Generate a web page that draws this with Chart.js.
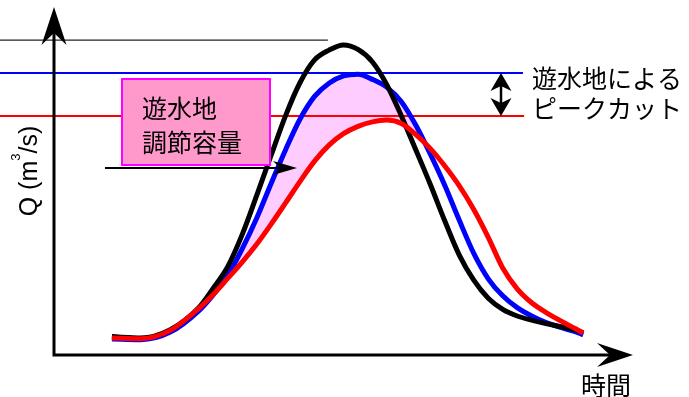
<!DOCTYPE html>
<html>
<head>
<meta charset="utf-8">
<script src="https://cdn.jsdelivr.net/npm/chart.js@4.4.1/dist/chart.umd.min.js"></script>
<style>
  body { margin: 0; background: #fff; }
  #chart { display: block; }
</style>
</head>
<body>
<canvas id="chart" width="689" height="397"></canvas>
<script>
// hydrograph (time 0..100, Q 0..100)
const timeSteps = [10, 15, 20, 25, 27.5, 30, 32.5, 35, 37.5, 40, 42.5, 45, 47.5, 50, 52.5, 55, 57.5, 60, 62.5, 65, 67.5, 70, 72.5, 75, 77.5, 80, 82.5, 85, 90, 91.4];
const inflowQ = [5.3, 4.9, 7.2, 13.6, 19.2, 25.4, 34.6, 45.8, 57.4, 68.8, 78.3, 84.8, 87.6, 89.1, 87.8, 84.2, 77.6, 68.7, 58.9, 49.0, 38.5, 28.7, 21.5, 16.3, 13.1, 11.2, 10.0, 9.0, 7.2, 6.4];
const beforePondQ = [4.6, 4.4, 6.5, 12.7, 17.3, 22.8, 30.5, 39.3, 49.3, 59.0, 67.8, 74.3, 78.1, 80.2, 80.7, 79.2, 76.9, 72.8, 66.0, 57.7, 48.7, 38.7, 29.2, 21.9, 17.0, 13.6, 11.2, 9.3, 6.7, 5.8];
const afterPondQ = [4.9, 4.7, 7.0, 13.4, 17.4, 22.0, 26.7, 31.8, 37.6, 43.7, 49.9, 55.7, 60.3, 63.6, 65.7, 67.0, 67.5, 66.5, 63.3, 59.3, 54.3, 48.6, 41.8, 33.8, 25.0, 19.0, 15.0, 12.2, 7.6, 6.3];

// horizontal level lines: black (thin), blue, red
const levelQ = [90.5, 81.0, 68.7];
const levelStart = -9.33;
const levelEnd = [47.3, 81.0, 81.2];

const yLabel = ['Q (m', '3', '/s)'];
const xLabel = '時間';
const boxText = ['遊水地', '調節容量'];
const cutText = ['遊水地による', 'ピークカット'];

function toPoints(ys) {
    return timeSteps.map((t, i) => ({ x: t, y: ys[i] }));
}

function levelLine(i) {
    return [{ x: levelStart, y: levelQ[i] }, { x: levelEnd[i], y: levelQ[i] }];
}

function arrowHead(ctx, tx, ty, dx, dy, len, half, notch) {
    const px = -dy, py = dx;
    ctx.beginPath();
    ctx.moveTo(tx, ty);
    ctx.lineTo(tx - dx * len + px * half, ty - dy * len + py * half);
    ctx.lineTo(tx - dx * notch, ty - dy * notch);
    ctx.lineTo(tx - dx * len - px * half, ty - dy * len - py * half);
    ctx.closePath();
    ctx.fill();
}

const drawing = {
    id: 'drawing',
    afterDatasetsDraw(chart) {
        const ctx = chart.ctx;
        const area = chart.chartArea;
        const ys = chart.scales.y;
        ctx.save();
        ctx.fillStyle = '#000';
        ctx.strokeStyle = '#000';

        // axes with arrows
        ctx.lineWidth = 3;
        ctx.beginPath();
        ctx.moveTo(area.left, area.top + 26);
        ctx.lineTo(area.left, area.bottom);
        ctx.lineTo(area.right - 23, area.bottom);
        ctx.stroke();
        arrowHead(ctx, area.left, area.top, 0, -1, 38, 12.5, 26);
        arrowHead(ctx, area.right, area.bottom, 1, 0, 36, 12, 23);

        // storage box
        ctx.fillStyle = '#ff99cc';
        ctx.fillRect(122, 79, 148, 86);
        ctx.strokeStyle = '#ff00ff';
        ctx.lineWidth = 2;
        ctx.strokeRect(122, 79, 148, 86);

        ctx.fillStyle = '#000';
        ctx.strokeStyle = '#000';
        ctx.font = '25px "Noto Sans CJK JP"';
        ctx.textBaseline = 'middle';
        ctx.textAlign = 'left';
        ctx.fillText(boxText[0], 142, 108);
        ctx.fillText(boxText[1], 142, 142);

        // pointer arrow
        ctx.lineWidth = 2;
        ctx.beginPath();
        ctx.moveTo(105, 168);
        ctx.lineTo(285, 168);
        ctx.stroke();
        arrowHead(ctx, 297, 168, 1, 0, 24, 7, 17);

        // peak cut double arrow between the blue and red levels
        const top = ys.getPixelForValue(levelQ[1]);
        const bot = ys.getPixelForValue(levelQ[2]);
        const ax = 501;
        ctx.lineWidth = 2.5;
        ctx.beginPath();
        ctx.moveTo(ax, top + 10);
        ctx.lineTo(ax, bot - 10);
        ctx.stroke();
        arrowHead(ctx, ax, top, 0, -1, 18, 10.5, 13);
        arrowHead(ctx, ax, bot, 0, 1, 18, 10.5, 13);

        ctx.fillText(cutText[0], 532, 78);
        ctx.fillText(cutText[1], 532, 108);
        ctx.fillText(xLabel, 581, 385);

        // rotated y label
        ctx.translate(37, 171);
        ctx.rotate(-Math.PI / 2);
        ctx.textBaseline = 'alphabetic';
        const big = '25px "Liberation Sans"', small = '13px "Liberation Sans"';
        ctx.font = big;
        const wa = ctx.measureText(yLabel[0]).width;
        const wc = ctx.measureText(yLabel[2]).width;
        ctx.font = small;
        const wb = ctx.measureText(yLabel[1]).width;
        let x0 = -(wa + wb + wc) / 2;
        ctx.font = big;
        ctx.fillText(yLabel[0], x0, 0);
        ctx.font = small;
        ctx.fillText(yLabel[1], x0 + wa, -17);
        ctx.font = big;
        ctx.fillText(yLabel[2], x0 + wa + wb, 0);
        ctx.restore();
    }
};

const curveStyle = { borderWidth: 5, pointRadius: 0, cubicInterpolationMode: 'monotone', fill: false };

new Chart(document.getElementById('chart'), {
    type: 'line',
    data: {
        datasets: [
            { ...curveStyle, label: 'after', data: toPoints(afterPondQ), borderColor: '#ff0000' },
            { ...curveStyle, label: 'inflow', data: toPoints(inflowQ), borderColor: '#000000' },
            {
                ...curveStyle, label: 'before', data: toPoints(beforePondQ), borderColor: '#0000ff',
                fill: { target: 0, above: '#ffccff', below: 'rgba(0,0,0,0)' }
            },
            { label: 'lv0', data: levelLine(0), borderColor: '#222222', borderWidth: 1.2, pointRadius: 0, clip: false, fill: false },
            { label: 'lv1', data: levelLine(1), borderColor: '#0000ff', borderWidth: 2, pointRadius: 0, clip: false, fill: false },
            { label: 'lv2', data: levelLine(2), borderColor: '#ff0000', borderWidth: 2, pointRadius: 0, clip: false, fill: false }
        ]
    },
    options: {
        responsive: false,
        animation: false,
        devicePixelRatio: 1,
        layout: { padding: { left: 54, right: 56, top: 7, bottom: 42 } },
        scales: {
            x: { type: 'linear', min: 0, max: 100, display: false },
            y: { min: 0, max: 100, display: false }
        },
        plugins: {
            legend: { display: false },
            tooltip: { enabled: false },
            filler: { drawTime: 'beforeDatasetsDraw' }
        }
    },
    plugins: [drawing]
});
</script>
</body>
</html>
